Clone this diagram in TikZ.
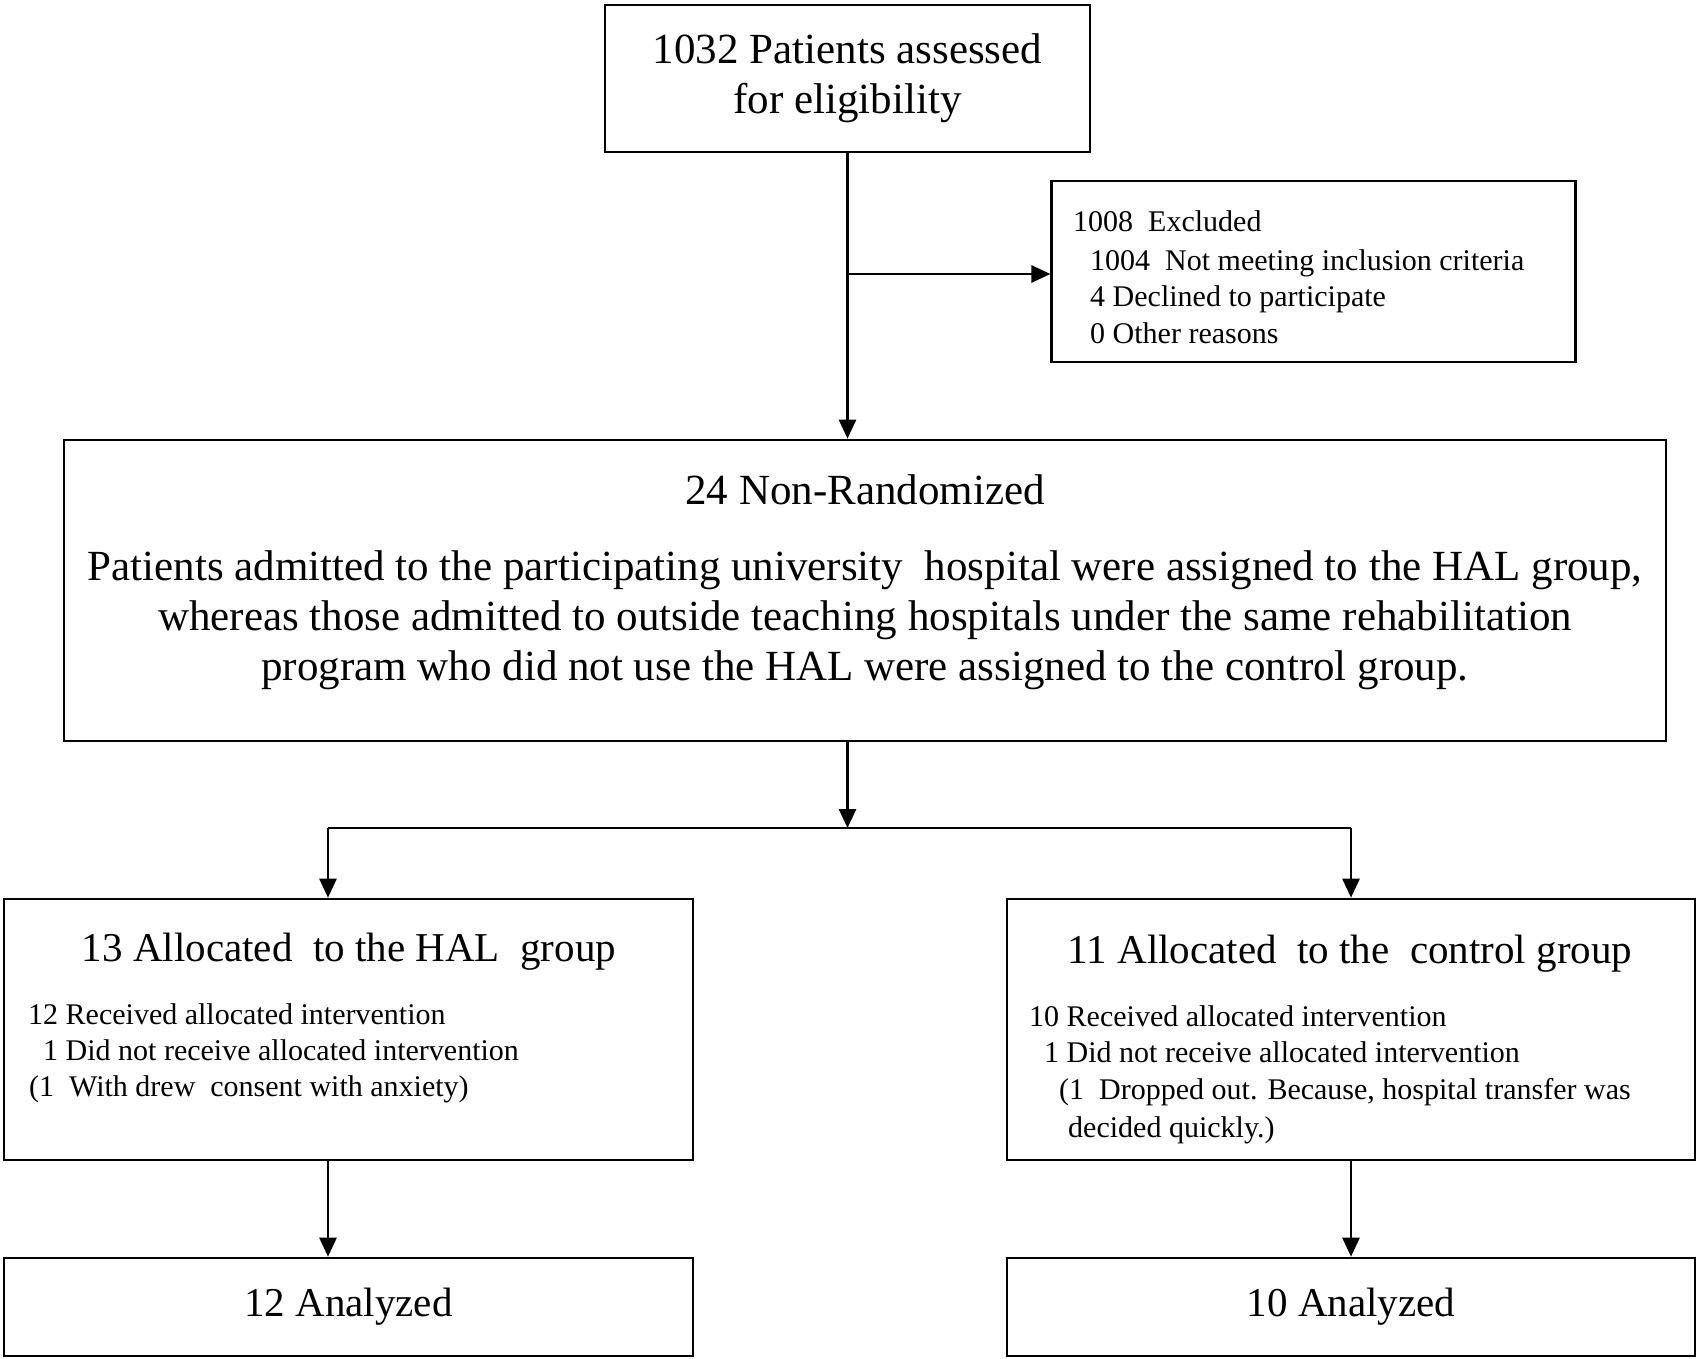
\documentclass[tikz,border=0pt]{standalone}
\usepackage{fontspec}
\setmainfont{Liberation Serif}
\usetikzlibrary{arrows.meta}
\newcommand{\bigf}{\fontsize{43}{50}\selectfont}
\newcommand{\midf}{\fontsize{41}{50}\selectfont}
\newcommand{\smallf}{\fontsize{30}{36.5}\selectfont}
\begin{document}
\begin{tikzpicture}[x=1pt,y=-1pt,
  box/.style={draw, line width=2.6pt, rectangle, inner sep=0pt},
  arr/.style={line width=2.6pt,-{Triangle[length=19pt,width=17pt]}},
  ln/.style={line width=2.6pt},
  txt/.style={inner sep=0pt, anchor=base west, font=\smallf}]
\useasboundingbox (0,0) rectangle (1700,1359);
% boxes
\node[box, minimum width=485pt, minimum height=147pt, align=center, font=\bigf] (top) at (847.5,78.5) {1032 Patients assessed\\for eligibility};
\node[box, minimum width=524pt, minimum height=181pt] (excl) at (1313.75,271.5) {};
\node[box, minimum width=1602pt, minimum height=301pt] (rand) at (865,590.5) {};
\node[box, minimum width=689pt, minimum height=261pt] (hal) at (348.5,1029.5) {};
\node[box, minimum width=688pt, minimum height=261pt] (ctl) at (1351,1029.5) {};
\node[box, minimum width=689pt, minimum height=98pt, font=\midf] (hala) at (348.5,1307) {12 Analyzed};
\node[box, minimum width=688pt, minimum height=98pt, font=\midf] (ctla) at (1351,1307) {10 Analyzed};
% excluded text
\node[txt] (e1) at (1073,232) {1008\ \ Excluded};
\node[txt] (e2) at (1090,270) {1004\ \ Not meeting inclusion criteria};
\node[txt] (e3) at (1090,306) {4 Declined to participate};
\node[txt] (e4) at (1090,343) {0 Other reasons};
% randomization text
\node[inner sep=0pt, anchor=base, font=\bigf] (r1) at (865,504) {24 Non-Randomized};
\node[inner sep=0pt, anchor=base, font=\bigf, align=center] (r2) at (865,680) {Patients admitted to the participating university\ \ hospital were assigned to the HAL group,\\whereas those admitted to outside teaching hospitals under the same rehabilitation\\program who did not use the HAL were assigned to the control group.};
% HAL text
\node[inner sep=0pt, anchor=base, font=\midf] (h0) at (349,961) {13 Allocated\ \ to the HAL\ \ group};
\node[txt] (h1) at (28,1024) {12 Received allocated intervention};
\node[txt] (h2) at (43,1060) {1 Did not receive allocated intervention};
\node[txt] (h3) at (29,1096) {(1\ \ With drew\ \ consent with anxiety)};
% control text
\node[inner sep=0pt, anchor=base, font=\midf] (c0) at (1350,963) {11 Allocated\ \ to the\ \ control group};
\node[txt] (c1) at (1029,1026) {10 Received allocated intervention};
\node[txt] (c2) at (1044,1062) {1 Did not receive allocated intervention};
\node[txt] (c3) at (1059,1099) {(1\ \ Dropped out. Because, hospital transfer was};
\node[txt] (c4) at (1068,1137) {decided quickly.)};
% connectors
\coordinate (br) at (847.5,274);
\coordinate (jn) at (847.5,828);
\coordinate (jl) at (328,828);
\coordinate (jr) at (1351,828);
\draw[arr] (top.south) -- (top.south |- rand.north);
\draw[arr] (br) -- (excl.west |- br);
\draw[arr] (top.south |- rand.south) -- (jn);
\draw[ln] (jl) -- (jr);
\draw[arr] (jl) -- (jl |- hal.north);
\draw[arr] (jr) -- (ctl.north);
\draw[arr] (jl |- hal.south) -- (jl |- hala.north);
\draw[arr] (ctl.south) -- (ctla.north);
\end{tikzpicture}
\end{document}
